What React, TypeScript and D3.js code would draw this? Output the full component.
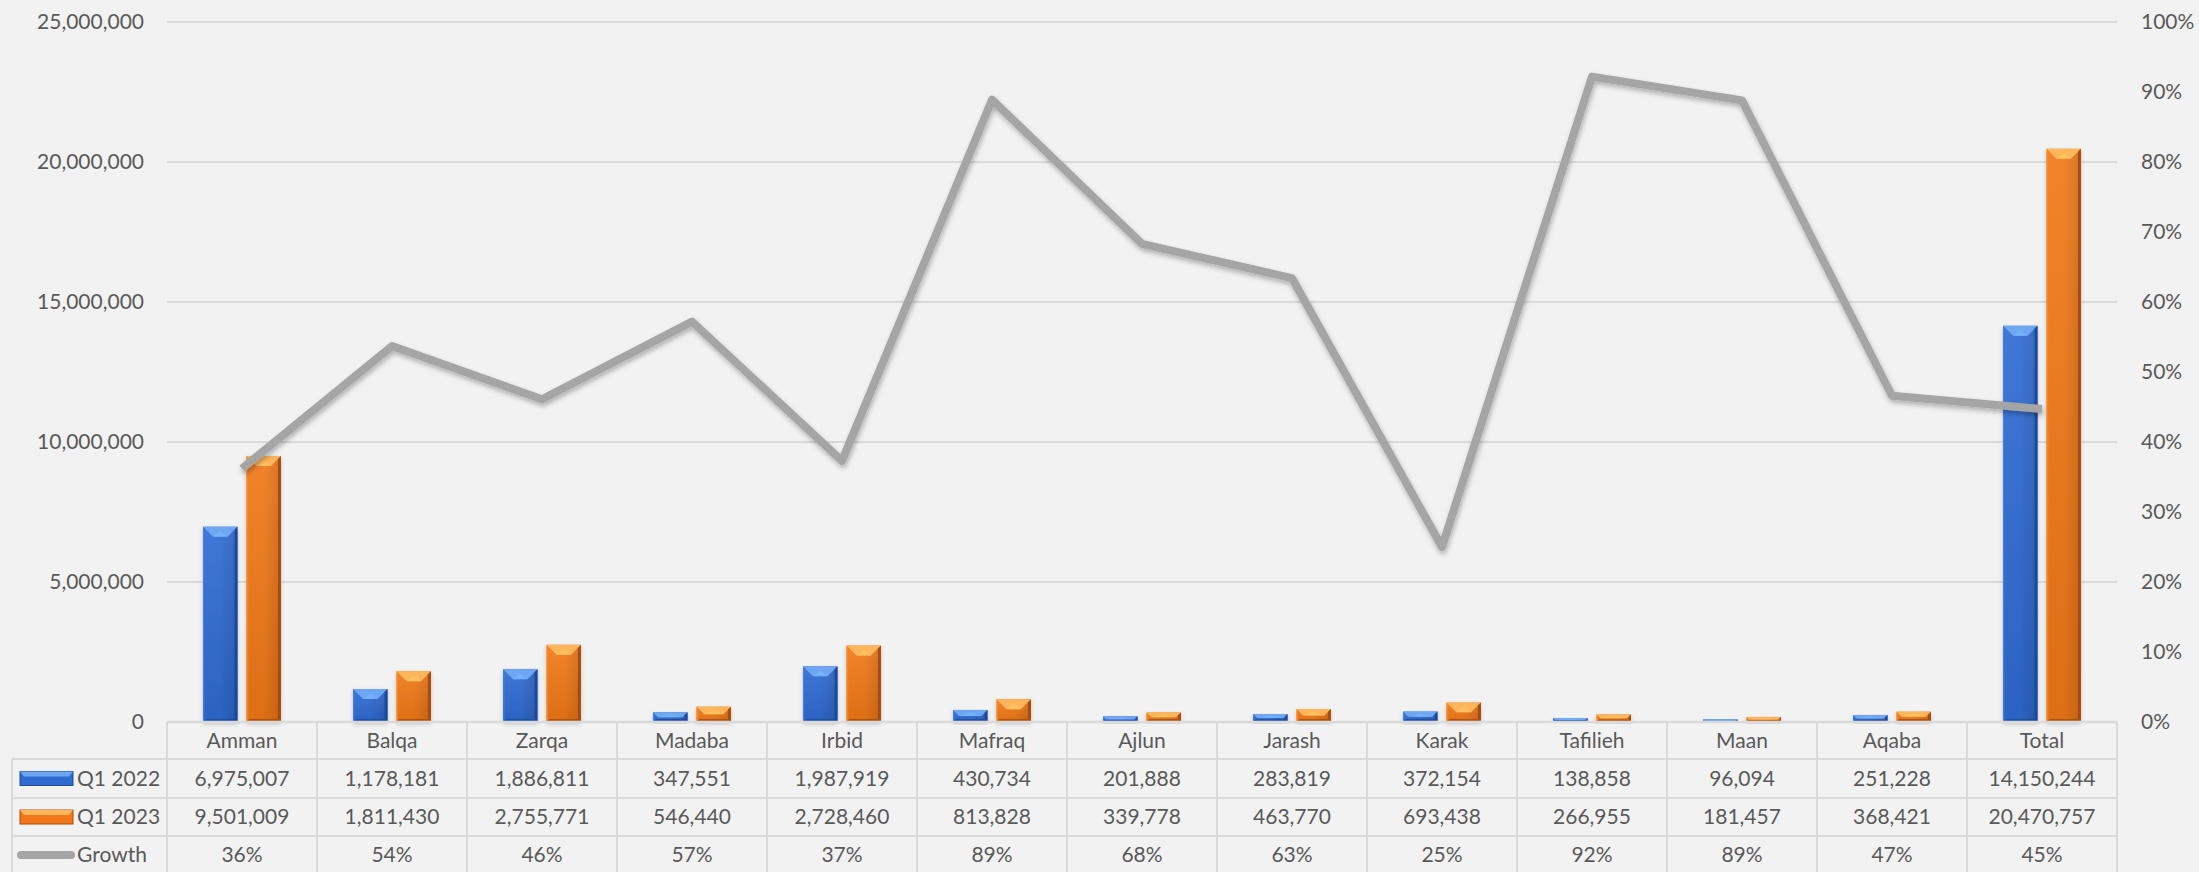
import { useEffect, useRef } from "react";
import * as d3 from "d3";

const categories = ["Amman", "Balqa", "Zarqa", "Madaba", "Irbid", "Mafraq", "Ajlun", "Jarash", "Karak", "Tafilieh", "Maan", "Aqaba", "Total"];
const q1_2022 = [6975007, 1178181, 1886811, 347551, 1987919, 430734, 201888, 283819, 372154, 138858, 96094, 251228, 14150244];
const q1_2023 = [9501009, 1811430, 2755771, 546440, 2728460, 813828, 339778, 463770, 693438, 266955, 181457, 368421, 20470757];
const growth = [0.362, 0.537, 0.461, 0.572, 0.373, 0.889, 0.683, 0.634, 0.25, 0.922, 0.888, 0.466, 0.447];
const leftTicks = [0, 5000000, 10000000, 15000000, 20000000, 25000000];
const rightTicks = [0, 0.1, 0.2, 0.3, 0.4, 0.5, 0.6, 0.7, 0.8, 0.9, 1];
const seriesNames = ["Q1 2022", "Q1 2023"];

const W = 2199, H = 872;
const FONT = "Lato, 'Open Sans', sans-serif";
const TXT = "#595959";
const GRID = "#d9d9d9";

const palette = {
  "Q1 2022": { light: "#6ea6f2", mid: "#2f6bd2", dark: "#1d4a9a", grad: "gBlue" },
  "Q1 2023": { light: "#ffb55a", mid: "#f07818", dark: "#a94c0c", grad: "gOrange" },
};

function App() {
  const ref = useRef<SVGSVGElement | null>(null);

  useEffect(() => {
    drawChart();
  }, []);

  function drawChart() {
    const svg = d3.select(ref.current);
    svg.selectAll("*").remove();

    const left = 167, right = 2117, top = 22, base = 722;
    const rowH = [722, 759, 798, 836, 874];

    const x = d3.scaleBand().domain(categories).range([left, right]).padding(0);
    const bw = x.bandwidth();
    const x1 = d3.scaleBand().domain(seriesNames).range([0, bw]).paddingInner(0.207).paddingOuter(0.83);
    const y = d3.scaleLinear().domain([0, 25000000]).range([base, top]);
    const y2 = d3.scaleLinear().domain([0, 1]).range([base, top]);

    const defs = svg.append("defs");
    Object.values(palette).forEach((p) => {
      const g = defs.append("linearGradient").attr("id", p.grad).attr("x1", 0).attr("x2", 1).attr("y1", 0).attr("y2", 0);
      g.append("stop").attr("offset", 0).attr("stop-color", p.mid).attr("stop-opacity", 1);
      g.append("stop").attr("offset", 0.5).attr("stop-color", p.mid);
      g.append("stop").attr("offset", 1).attr("stop-color", d3.color(p.mid)!.darker(0.35).toString());
      const gv = defs.append("linearGradient").attr("id", p.grad + "V").attr("x1", 0).attr("x2", 0).attr("y1", 0).attr("y2", 1);
      gv.append("stop").attr("offset", 0).attr("stop-color", "#fff").attr("stop-opacity", 0.08);
      gv.append("stop").attr("offset", 1).attr("stop-color", "#000").attr("stop-opacity", 0.08);
    });
    const sh = defs.append("filter").attr("id", "shadow").attr("x", "-20%").attr("y", "-20%").attr("width", "140%").attr("height", "140%");
    sh.append("feDropShadow").attr("dx", 1).attr("dy", 3).attr("stdDeviation", 2.5).attr("flood-color", "#000").attr("flood-opacity", 0.28);
    const bsh = defs.append("filter").attr("id", "bshadow").attr("x", "-30%").attr("y", "-10%").attr("width", "160%").attr("height", "130%");
    bsh.append("feDropShadow").attr("dx", 0).attr("dy", 2).attr("stdDeviation", 2).attr("flood-color", "#000").attr("flood-opacity", 0.2);

    svg.append("rect").attr("width", W).attr("height", H).attr("fill", "#f2f2f2");

    // gridlines
    svg.append("g").selectAll("line").data(leftTicks.slice(1)).join("line")
      .attr("x1", left).attr("x2", right)
      .attr("y1", (d) => y(d)).attr("y2", (d) => y(d))
      .attr("stroke", GRID).attr("stroke-width", 2);

    // left axis labels
    svg.append("g").selectAll("text").data(leftTicks).join("text")
      .attr("x", 144).attr("y", (d) => y(d)).attr("dy", "0.35em")
      .attr("text-anchor", "end").attr("font-family", FONT).attr("font-size", 21).attr("fill", TXT)
      .text((d) => d3.format(",")(d));

    // right axis labels
    svg.append("g").selectAll("text").data(rightTicks).join("text")
      .attr("x", 2141).attr("y", (d) => y2(d)).attr("dy", "0.35em")
      .attr("text-anchor", "start").attr("font-family", FONT).attr("font-size", 21).attr("fill", TXT)
      .text((d) => d3.format(".0%")(d));

    // bars
    const values: Record<string, number[]> = { "Q1 2022": q1_2022, "Q1 2023": q1_2023 };
    seriesNames.forEach((s) => {
      const p = palette[s as keyof typeof palette];
      const g = svg.append("g");
      categories.forEach((c, i) => {
        const bx = x(c)! + x1(s)!;
        const w = x1.bandwidth();
        const by = y(values[s][i]);
        const h = base - by;
        const d = Math.min(10, h / 2, w / 2);
        const e = Math.min(3, h / 3);
        const bar = g.append("g").attr("filter", "url(#bshadow)");
        bar.append("rect").attr("x", bx).attr("y", by).attr("width", w).attr("height", h).attr("fill", `url(#${p.grad})`);
        bar.append("rect").attr("x", bx).attr("y", by).attr("width", w).attr("height", h).attr("fill", `url(#${p.grad}V)`);
        // top bevel
        bar.append("polygon")
          .attr("points", [[bx, by], [bx + w, by], [bx + w - d, by + d], [bx + d, by + d]].map((q) => q.join(",")).join(" "))
          .attr("fill", p.light);
        bar.append("polygon")
          .attr("points", [[bx + d, by + d], [bx + w - d, by + d], [bx + w / 2, by + d * 0.4]].map((q) => q.join(",")).join(" "))
          .attr("fill", d3.color(p.light)!.brighter(0.3).toString()).attr("opacity", 0.6);
        // right edge
        bar.append("polygon")
          .attr("points", [[bx + w, by], [bx + w, base], [bx + w - e, base - e], [bx + w - e, by + e]].map((q) => q.join(",")).join(" "))
          .attr("fill", p.dark);
        // left edge
        bar.append("polygon")
          .attr("points", [[bx, by], [bx, base], [bx + e * 0.6, base - e], [bx + e * 0.6, by + e]].map((q) => q.join(",")).join(" "))
          .attr("fill", d3.color(p.mid)!.brighter(0.4).toString()).attr("opacity", 0.7);
        // bottom edge
        bar.append("polygon")
          .attr("points", [[bx, base], [bx + w, base], [bx + w - e, base - e], [bx + e, base - e]].map((q) => q.join(",")).join(" "))
          .attr("fill", p.dark).attr("opacity", 0.8);
      });
    });

    // growth line
    const line = d3.line<number>()
      .x((_, i) => x(categories[i])! + bw / 2)
      .y((d) => y2(d));
    svg.append("path").datum(growth).attr("d", line)
      .attr("fill", "none").attr("stroke", "#a5a5a5").attr("stroke-width", 8)
      .attr("stroke-linejoin", "round").attr("stroke-linecap", "butt")
      .attr("filter", "url(#shadow)");

    // data table
    const t = svg.append("g");
    t.append("line").attr("x1", left).attr("x2", right).attr("y1", rowH[0]).attr("y2", rowH[0]).attr("stroke", GRID).attr("stroke-width", 2.5);
    rowH.slice(1, 4).forEach((ry) => {
      t.append("line").attr("x1", 12).attr("x2", right).attr("y1", ry).attr("y2", ry).attr("stroke", GRID).attr("stroke-width", 2);
    });
    t.append("line").attr("x1", 12).attr("x2", 12).attr("y1", rowH[1]).attr("y2", H).attr("stroke", GRID).attr("stroke-width", 2);
    const edges = categories.map((c) => x(c)!).concat([right]);
    t.selectAll("line.v").data(edges).join("line").attr("class", "v")
      .attr("x1", (d) => d).attr("x2", (d) => d).attr("y1", rowH[0]).attr("y2", H)
      .attr("stroke", GRID).attr("stroke-width", 2);

    const mid = (k: number) => (rowH[k] + rowH[k + 1]) / 2;
    const rows: { vals: string[]; k: number }[] = [
      { vals: categories, k: 0 },
      { vals: q1_2022.map((v) => d3.format(",")(v)), k: 1 },
      { vals: q1_2023.map((v) => d3.format(",")(v)), k: 2 },
      { vals: growth.map((v) => d3.format(".0%")(v)), k: 3 },
    ];
    rows.forEach((r) => {
      t.append("g").selectAll("text").data(r.vals).join("text")
        .attr("x", (_, i) => x(categories[i])! + bw / 2).attr("y", mid(r.k)).attr("dy", "0.35em")
        .attr("text-anchor", "middle").attr("font-family", FONT).attr("font-size", 21).attr("fill", TXT)
        .text((d) => d);
    });

    // legend keys in table
    seriesNames.forEach((s, i) => {
      const p = palette[s as keyof typeof palette];
      const cy = mid(i + 1);
      const lg = t.append("g");
      lg.append("rect").attr("x", 20).attr("y", cy - 7).attr("width", 53).attr("height", 14).attr("fill", p.mid).attr("stroke", p.dark).attr("stroke-width", 1);
      lg.append("polygon")
        .attr("points", [[20, cy - 7], [73, cy - 7], [69, cy - 2], [24, cy - 2]].map((q) => q.join(",")).join(" "))
        .attr("fill", p.light);
      lg.append("text").attr("x", 77).attr("y", cy).attr("dy", "0.35em")
        .attr("font-family", FONT).attr("font-size", 21).attr("fill", TXT).text(s);
    });
    const gy = mid(3);
    t.append("line").attr("x1", 21).attr("x2", 71).attr("y1", gy).attr("y2", gy)
      .attr("stroke", "#a5a5a5").attr("stroke-width", 8).attr("stroke-linecap", "round");
    t.append("text").attr("x", 77).attr("y", gy).attr("dy", "0.35em")
      .attr("font-family", FONT).attr("font-size", 21).attr("fill", TXT).text("Growth");
  }

  return (
    <div style={{ position: "fixed", left: 0, top: 0, width: W, height: H, background: "#f2f2f2" }}>
      <svg ref={ref} width={W} height={H} style={{ display: "block" }} />
    </div>
  );
}

export default App;
